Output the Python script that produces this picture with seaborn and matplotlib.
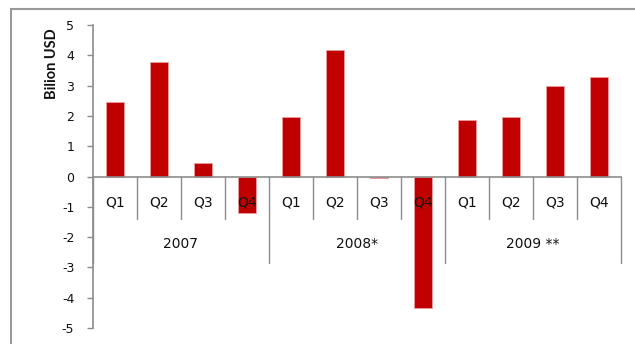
import matplotlib
matplotlib.use("Agg")
import matplotlib.pyplot as plt
import seaborn as sns
import pandas as pd
from matplotlib.patches import Rectangle

years = ["2007", "2008*", "2009 **"]
quarters = ["Q1", "Q2", "Q3", "Q4"]
values_2007 = [2.47, 3.78, 0.46, -1.2]
values_2008 = [1.97, 4.17, -0.06, -4.35]
values_2009 = [1.85, 1.97, 2.98, 3.28]
yticks = [5, 4, 3, 2, 1, 0, -1, -2, -3, -4, -5]

rows = []
for y, vals in zip(years, [values_2007, values_2008, values_2009]):
    for q, v in zip(quarters, vals):
        rows.append({"cat": f"{y} {q}", "year": y, "quarter": q, "value": v})
df = pd.DataFrame(rows)

sns.set_theme(style="white")
plt.rcParams["font.family"] = ["DejaVu Sans"]

fig = plt.figure(figsize=(6.35, 3.44), dpi=100)
W, H = 635, 344
ax = fig.add_axes([93 / W, (H - 328) / H, 528 / W, 303 / H])

bar_color = "#C00000"
sns.barplot(data=df, x="cat", y="value", color=bar_color, width=0.4,
            edgecolor="#E8A0A0", linewidth=0.6, ax=ax, saturation=1)

ax.set_ylim(-5, 5)
ax.set_xlim(-0.5, len(df) - 0.5)
ax.set_yticks(yticks)
ax.set_yticklabels([str(t) for t in yticks], fontsize=9, color="#111111")
ax.set_xticks([])
ax.set_xlabel("")
ax.set_ylabel("")

gray = "#8c8c8c"
for s in ["top", "right"]:
    ax.spines[s].set_visible(False)
ax.spines["left"].set_color(gray)
ax.spines["left"].set_linewidth(1.2)
ax.spines["bottom"].set_position(("data", 0))
ax.spines["bottom"].set_color(gray)
ax.spines["bottom"].set_linewidth(1.2)
ax.tick_params(axis="y", direction="out", length=4.5, width=1.0, color=gray,
               pad=9, left=True)

# category separators
n = len(df)
for i in range(n + 1):
    xpos = i - 0.5
    if i % 4 == 0:
        ax.plot([xpos, xpos], [0, -2.84], color=gray, lw=1.0, clip_on=False)
    else:
        ax.plot([xpos, xpos], [0, -1.39], color=gray, lw=1.0, clip_on=False)

for i, q in enumerate(df["quarter"]):
    ax.text(i, -0.86, q, ha="center", va="center", fontsize=10, color="#111111")
for j, y in enumerate(years):
    ax.text(j * 4 + 1.5, -2.24, y, ha="center", va="center", fontsize=10,
            color="#111111")

fig.text(52 / W, 1 - 64 / H, "Bilion USD", rotation=90, ha="center",
         va="center", fontsize=10.5, fontweight="bold",
         family=["Lato", "DejaVu Sans"], color="#111111")

# outer chart-area border (cropped on right and bottom)
fig.patches.append(Rectangle((11 / W, -0.2), 1.2, 1.2 - 9 / H,
                             transform=fig.transFigure, fill=False,
                             edgecolor="#999999", lw=1.5))

fig.savefig("out.png", dpi=100)
